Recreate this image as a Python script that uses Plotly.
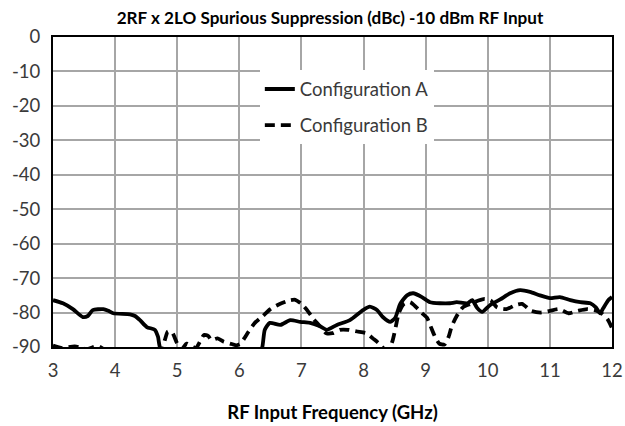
import plotly.graph_objects as go

# Configuration A (solid)
freq_a = [3.0, 3.16, 3.32, 3.48, 3.56, 3.64, 3.81, 3.89, 3.97, 4.24, 4.32, 4.40, 4.51, 4.64, 4.69, 4.74,
          5.2, 5.8, 6.3, 6.37, 6.41, 6.49, 6.66, 6.82, 6.98, 7.14, 7.30, 7.41, 7.57, 7.78, 7.99, 8.10,
          8.22, 8.31, 8.43, 8.51, 8.59, 8.70, 8.80, 8.94, 9.07, 9.23, 9.39, 9.50, 9.67, 9.75, 9.83,
          9.91, 10.04, 10.2, 10.36, 10.52, 10.68, 10.84, 11.0, 11.16, 11.33, 11.49, 11.65, 11.74,
          11.81, 11.86, 11.94, 12.0]
supp_a = [-76.4, -77.3, -79.0, -81.3, -81.0, -79.3, -79.0, -79.5, -80.2, -80.5, -81.0, -82.2, -84.2, -85.0, -87.0, -91.0,
          -95.0, -95.0, -93.0, -90.0, -85.0, -83.0, -83.6, -82.2, -82.7, -83.0, -84.0, -85.0, -83.6, -82.2, -79.3, -78.3,
          -79.3, -81.3, -82.7, -81.5, -77.5, -75.0, -74.4, -75.5, -77.0, -77.3, -77.3, -77.0, -77.3, -76.4, -78.7,
          -79.8, -77.8, -76.2, -74.4, -73.5, -74.0, -75.0, -75.8, -75.5, -76.4, -77.0, -77.3, -78.5,
          -80.2, -78.7, -76.4, -75.5]

# Configuration B (dashed)
freq_b = [3.0, 3.15, 3.35, 3.55, 3.72, 3.85, 4.3, 4.75, 4.80, 4.85, 4.92, 5.0, 5.08, 5.15, 5.3, 5.38,
          5.43, 5.5, 5.55, 5.65, 5.75, 5.85, 5.95, 6.02, 6.08, 6.15, 6.25, 6.38, 6.5, 6.65, 6.8, 6.9,
          7.0, 7.1, 7.2, 7.3, 7.4, 7.5, 7.62, 7.75, 7.9, 8.05, 8.15, 8.25, 8.33, 8.4, 8.47, 8.52, 8.57,
          8.65, 8.75, 8.85, 8.93, 9.02, 9.08, 9.15, 9.22, 9.3, 9.37, 9.42, 9.5, 9.6, 9.72, 9.85, 9.95,
          10.05, 10.15, 10.3, 10.45, 10.55, 10.7, 10.85, 11.0, 11.15, 11.3, 11.45, 11.6, 11.75, 11.85,
          11.93, 12.0]
supp_b = [-89.6, -90.3, -89.8, -90.6, -89.7, -91.0, -95.0, -91.0, -88.0, -85.5, -85.8, -89.0, -90.5, -89.0, -90.3, -88.0,
          -86.5, -86.8, -88.0, -87.5, -88.5, -89.0, -89.5, -89.0, -87.5, -85.5, -83.0, -81.0, -79.0, -77.5, -76.5, -76.3,
          -77.5, -79.5, -82.0, -84.0, -86.0, -86.0, -85.0, -85.0, -85.5, -86.0, -87.5, -89.0, -90.5, -91.0, -88.0, -84.0, -80.0,
          -77.5, -77.0, -78.5, -80.0, -81.5, -84.0, -87.0, -89.0, -89.3, -87.0, -84.0, -81.0, -78.5, -77.5, -76.5, -76.0,
          -76.5, -78.5, -79.0, -77.8, -77.5, -79.5, -80.0, -79.5, -79.0, -80.2, -79.5, -79.0, -79.5, -80.5,
          -82.0, -84.5]

x_ticks = [3, 4, 5, 6, 7, 8, 9, 10, 11, 12]
y_ticks = [0, -10, -20, -30, -40, -50, -60, -70, -80, -90]

FONT = "Lato"
TXT = "#3a3a3a"

fig = go.Figure()
fig.add_trace(go.Scatter(x=freq_a, y=supp_a, mode="lines", name="Configuration A",
                         legendgroup="a",
                         line=dict(color="black", width=3.8, shape="spline", smoothing=0.6)))
fig.add_trace(go.Scatter(x=freq_b, y=supp_b, mode="lines", name="Configuration B",
                         legendgroup="b",
                         line=dict(color="black", width=3.8, dash="10px,6px", shape="spline", smoothing=0.6)))

fig.update_layout(
    width=625, height=426,
    margin=dict(l=53, r=13, t=37, b=79),
    paper_bgcolor="white", plot_bgcolor="white",
    title=dict(text="<b>2RF x 2LO Spurious Suppression (dBc) -10 dBm RF Input</b>",
               x=0.528, xanchor="center", y=0.958, yanchor="middle",
               font=dict(family=FONT, size=17.1, color="black")),
    font=dict(family=FONT, size=18.5, color=TXT),
    legend=dict(x=0.37, y=0.892, xanchor="left", yanchor="top", bgcolor="white",
                traceorder="grouped", tracegroupgap=9,
                font=dict(family=FONT, size=18.5, color=TXT)),
    showlegend=True,
)
fig.update_xaxes(range=[3, 12], tickvals=x_ticks, ticktext=[str(v) for v in x_ticks],
                 automargin=False,
                 showgrid=True, gridcolor="#a6a6a6", gridwidth=1.5,
                 showline=True, linecolor="black", linewidth=2, mirror=True,
                 zeroline=False, ticks="", ticklabelstandoff=6,
                 tickfont=dict(family=FONT, size=18.5, color=TXT),
                 title=dict(text="<b>RF Input Frequency (GHz)</b>", standoff=26,
                            font=dict(family=FONT, size=18.5, color="black")))
fig.update_yaxes(range=[-90, 0], tickvals=y_ticks, ticktext=[str(v) for v in y_ticks],
                 automargin=False,
                 showgrid=True, gridcolor="#a6a6a6", gridwidth=1.5,
                 showline=True, linecolor="black", linewidth=2, mirror=True,
                 zeroline=False, ticks="", ticklabelstandoff=7,
                 tickfont=dict(family=FONT, size=18.5, color=TXT))

# remove the browser's default 8px body margin so the figure sits at the page origin
fig.write_html("out.html", config={"displayModeBar": False},
               post_script="document.body.style.margin='0';")
